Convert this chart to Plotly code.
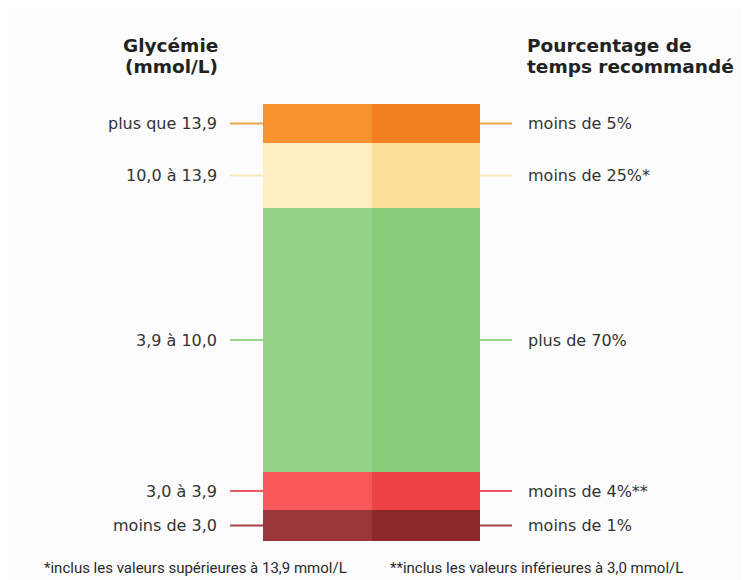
import plotly.graph_objects as go

# Segments, bottom to top
plages = ["moins de 3,0", "3,0 à 3,9", "3,9 à 10,0", "10,0 à 13,9", "plus que 13,9"]
objectifs = ["moins de 1%", "moins de 4%**", "plus de 70%", "moins de 25%*", "moins de 5%"]
hauteurs = [31, 38, 264, 65, 39]  # relative visual height of each band
couleurs_claires = ["#99363A", "#F7595B", "#96D38A", "#FEECC3", "#F7922F"]
couleurs_foncees = ["#8A282C", "#EE4346", "#8ACB7A", "#F9E096", "#F27F22"]
couleurs_traits = ["#A3444A", "#EC5A60", "#9AD48C", "#F8E8B8", "#E9A24E"]
moities = ["gauche", "droite"]

titre_gauche = ["Glycémie", "(mmol/L)"]
titre_droite = ["Pourcentage de", "temps recommandé"]
note_1 = "*inclus les valeurs supérieures à 13,9 mmol/L"
note_2 = "**inclus les valeurs inférieures à 3,0 mmol/L"

fig = go.Figure()
for i in range(len(plages)):
    fig.add_trace(go.Bar(
        x=moities, y=[hauteurs[i], hauteurs[i]],
        marker=dict(color=[couleurs_claires[i], couleurs_foncees[i]], line=dict(width=0)),
        showlegend=False, hoverinfo="skip", name=plages[i]))

total = sum(hauteurs)
W = 217.0
H = 437.0
def px_x(px):
    return (px - 263) / W
def px_y(py):
    return (541 - py) / H

txt_font = dict(family="DejaVu Sans, sans-serif", size=16, color="#333333")
cum = 0
for i in range(len(plages)):
    c = cum + hauteurs[i] / 2
    cum += hauteurs[i]
    fig.add_shape(type="line", xref="paper", yref="y", x0=px_x(230), x1=0, y0=c, y1=c,
                  line=dict(color=couleurs_traits[i], width=2), layer="below")
    fig.add_shape(type="line", xref="paper", yref="y", x0=1, x1=px_x(512), y0=c, y1=c,
                  line=dict(color=couleurs_traits[i], width=2), layer="below")
    fig.add_annotation(text=plages[i], xref="paper", yref="y", x=px_x(219), y=c,
                       xanchor="right", yanchor="middle", showarrow=False, font=txt_font)
    fig.add_annotation(text=objectifs[i], xref="paper", yref="y", x=px_x(526), y=c,
                       xanchor="left", yanchor="middle", showarrow=False, font=txt_font)

head_font = dict(family="DejaVu Sans, sans-serif", size=18.5, color="#222222")
for k, ligne in enumerate(titre_gauche):
    fig.add_annotation(text="<b>" + ligne + "</b>", xref="paper", yref="paper",
                       x=px_x(220), y=px_y(45 + 22 * k), xanchor="right", yanchor="middle",
                       showarrow=False, font=head_font)
for k, ligne in enumerate(titre_droite):
    fig.add_annotation(text="<b>" + ligne + "</b>", xref="paper", yref="paper",
                       x=px_x(525), y=px_y(45 + 22 * k), xanchor="left", yanchor="middle",
                       showarrow=False, font=head_font)

note_font = dict(family="Liberation Sans Narrow, Roboto, sans-serif", size=15, color="#2a2a2a")
fig.add_annotation(text=note_1, xref="paper", yref="paper", x=px_x(42), y=px_y(568),
                   xanchor="left", yanchor="middle", showarrow=False, font=note_font)
fig.add_annotation(text=note_2, xref="paper", yref="paper", x=px_x(388), y=px_y(568),
                   xanchor="left", yanchor="middle", showarrow=False, font=note_font)

fig.update_layout(
    width=741, height=572, barmode="stack", bargap=0,
    margin=dict(l=255, r=269, t=96, b=39),
    paper_bgcolor="#FCFCFC", plot_bgcolor="rgba(0,0,0,0)",
    xaxis=dict(visible=False, range=[-0.5, 1.5]),
    yaxis=dict(visible=False, range=[0, total]),
)
fig.write_html("out.html")
